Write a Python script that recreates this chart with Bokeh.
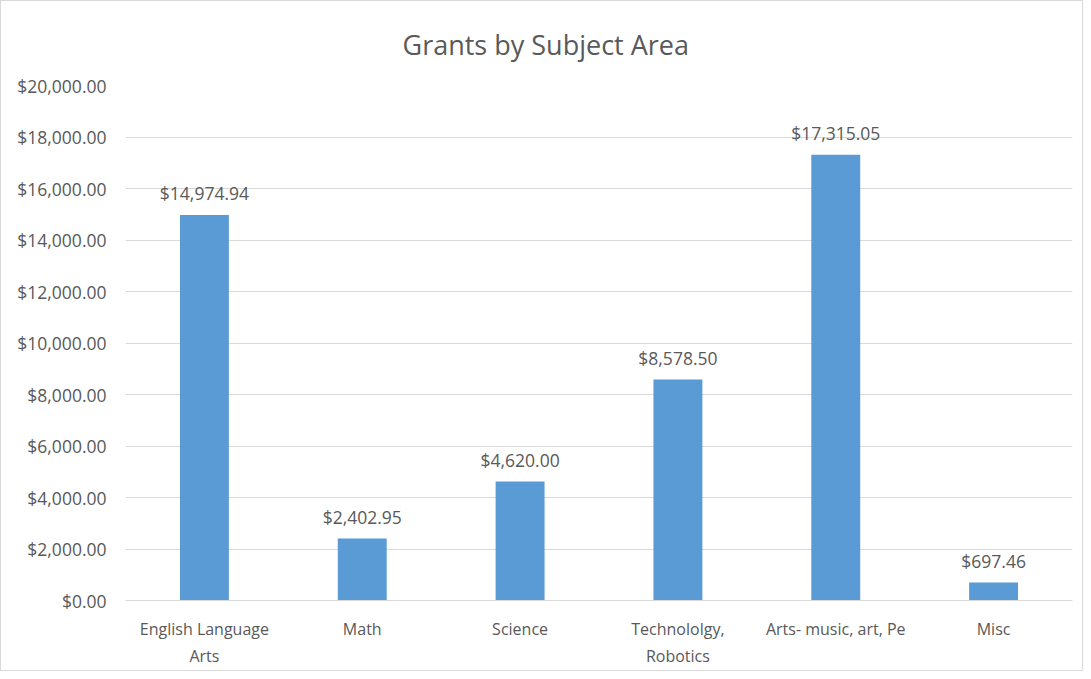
from bokeh.plotting import figure
from bokeh.models import ColumnDataSource, Range1d, FactorRange, NumeralTickFormatter, FixedTicker
from bokeh.embed import file_html
from bokeh.resources import INLINE
from bokeh.core.properties import value

categories = ["English Language\nArts", "Math", "Science", "Technololgy,\nRobotics", "Arts- music, art, Pe", "Misc"]
amounts = [14974.94, 2402.95, 4620.00, 8578.50, 17315.05, 697.46]
amount_labels = ["$14,974.94", "$2,402.95", "$4,620.00", "$8,578.50", "$17,315.05", "$697.46"]
y_ticks = [0, 2000, 4000, 6000, 8000, 10000, 12000, 14000, 16000, 18000, 20000]

FONT = "Open Sans"
TXT = "#595959"

src = ColumnDataSource(dict(cat=categories, amt=amounts, lab=amount_labels))

p = figure(x_range=FactorRange(*categories, range_padding=0), y_range=Range1d(0, 20000),
           width=1083, height=671, output_backend="svg", toolbar_location=None,
           min_border_left=124, min_border_right=12, min_border_top=83, min_border_bottom=72,
           title="Grants by Subject Area",
           styles={"border": "1px solid #D9D9D9"})
p.outline_line_color = None
p.vbar(x="cat", top="amt", width=0.31, source=src, color="#5B9BD5", line_color=None)
p.text(x="cat", y="amt", text="lab", source=src, text_align="center", text_baseline="bottom",
       y_offset=-10, text_font=value(FONT), text_font_size="17.5px", text_color=TXT)

p.title.align = "left"
p.title.offset = 277
p.title.standoff = 45
p.title.text_font = FONT
p.title.text_font_size = "27px"
p.title.text_font_style = "normal"
p.title.text_color = TXT

p.yaxis.ticker = FixedTicker(ticks=y_ticks)
p.yaxis.formatter = NumeralTickFormatter(format="$0,0.00")
p.yaxis.axis_line_color = None
p.yaxis.major_tick_line_color = None
p.yaxis.minor_tick_line_color = None
p.yaxis.major_tick_out = 0
p.yaxis.major_tick_in = 0
p.yaxis.minor_tick_out = 0
p.yaxis.major_label_standoff = 19
p.yaxis.major_label_text_font = FONT
p.yaxis.major_label_text_font_size = "17.5px"
p.yaxis.major_label_text_color = TXT

p.xaxis.axis_line_color = "#D9D9D9"
p.xaxis.axis_line_width = 1
p.xaxis.major_tick_line_color = None
p.xaxis.minor_tick_line_color = None
p.xaxis.major_tick_out = 0
p.xaxis.major_tick_in = 0
p.xaxis.minor_tick_out = 0
p.xaxis.major_label_standoff = 17
p.xaxis.major_label_text_font = FONT
p.xaxis.major_label_text_font_size = "16px"
p.xaxis.major_label_text_color = TXT
p.xaxis.major_label_text_line_height = 1.25

p.xgrid.grid_line_color = None
p.ygrid.grid_line_color = "#D9D9D9"
p.ygrid.grid_line_width = 1

open("out.html", "w").write(file_html(p, INLINE))
